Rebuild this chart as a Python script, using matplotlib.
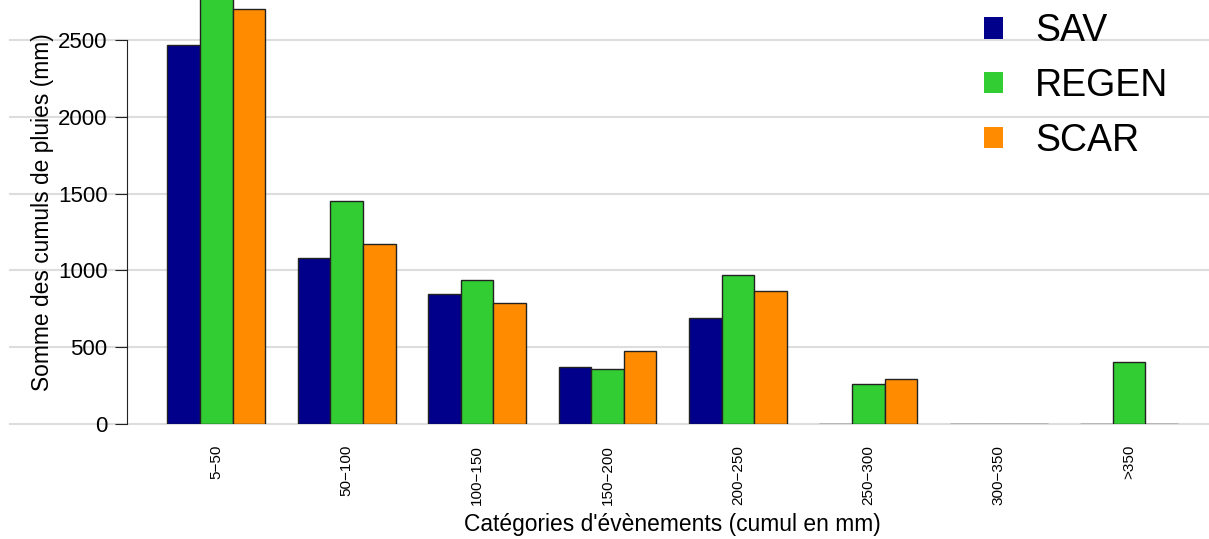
import numpy as np
import matplotlib.pyplot as plt
from matplotlib.patches import Patch

# Data
categories = ["5\u221250", "50\u2212100", "100\u2212150", "150\u2212200",
              "200\u2212250", "250\u2212300", "300\u2212350", ">350"]
sav = [2470, 1080, 845, 370, 690, 0, 0, 0]
regen = [2850, 1450, 937, 358, 970, 258, 0, 402]
scar = [2700, 1170, 788, 475, 866, 291, 0, 0]

series = [("SAV", sav, "#00008B"), ("REGEN", regen, "#32CD32"), ("SCAR", scar, "#FF8C00")]

plt.rcParams['font.family'] = ['Liberation Sans', 'DejaVu Sans']

W, H = 1209, 539
fig = plt.figure(figsize=(W / 100, H / 100), dpi=100)
left, bottom = 127, 115
ax = fig.add_axes([left / W, bottom / H, (W - left) / W, (H - bottom) / H])

# R-style barplot: bar width 1, one bar gap between groups
n = len(categories)
starts = 1 + 4 * np.arange(n)
for k, (name, vals, col) in enumerate(series):
    ax.bar(starts + k, vals, width=1, align='edge', color=col,
           edgecolor='#222222', linewidth=1, label=name, zorder=2)

ax.set_xlim(-0.24, -0.24 + (W - left) / 32.6)
ax.set_ylim(0, 2760)

# gridlines running into the left margin
for yv in range(0, 3000, 500):
    ax.axhline(yv, xmin=(10 - left) / (W - left), xmax=1, color='#dddddd',
               lw=1.5, clip_on=False, zorder=0)

for s in ['top', 'right', 'bottom']:
    ax.spines[s].set_visible(False)
ax.spines['left'].set_bounds(0, 2500)
ax.spines['left'].set_color('#222222')
ax.set_yticks(range(0, 3000, 500))
ax.tick_params(axis='y', length=9, color='#222222', labelsize=16, pad=5)

ax.set_xticks(starts + 1.5)
ax.set_xticklabels(categories, rotation=90, fontsize=11)
ax.tick_params(axis='x', length=0, pad=15)

ax.set_ylabel("Somme des cumuls de pluies (mm)", fontsize=16.4, labelpad=3)
fig.text(672 / W, 1 - 525 / H, "Catégories d'évènements (cumul en mm)",
         fontsize=16.4, ha='center', va='center')

handles = [Patch(facecolor=c, edgecolor='none') for _, _, c in series]
ax.legend(handles, [s[0] for s in series], loc='upper left',
          bbox_to_anchor=(973 / W, 1 - 2 / H), bbox_transform=fig.transFigure,
          frameon=False, fontsize=27, handlelength=0.5, handleheight=0.5,
          handletextpad=0.85, labelspacing=0.5, borderaxespad=0, borderpad=0.3)

fig.savefig("out.png", dpi=100)
